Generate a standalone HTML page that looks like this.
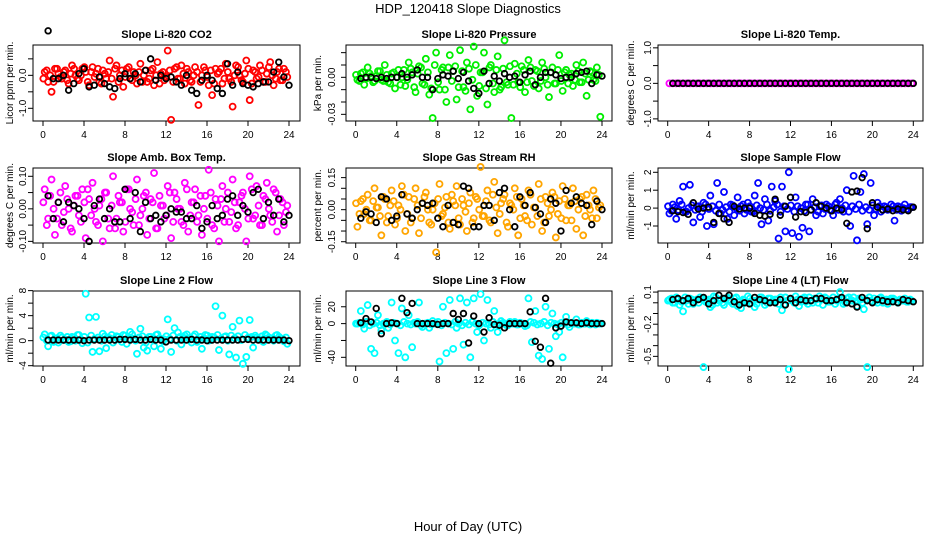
<!DOCTYPE html>
<html><head><meta charset="utf-8"><style>
html,body{margin:0;padding:0;background:#fff;}
svg{display:block;font-family:"Liberation Sans",Arial,sans-serif;}
</style></head><body>
<svg id="chart" width="936" height="540" viewBox="0 0 936 540">
<rect width="936" height="540" fill="#fff"/>
<text x="468" y="13" text-anchor="middle" font-size="13">HDP_120418  Slope Diagnostics</text>
<text x="468" y="531" text-anchor="middle" font-size="13">Hour of Day (UTC)</text>
</svg>
<script>
const xTicks = [0,4,8,12,16,20,24];
const titles = ["Slope Li-820 CO2","Slope Li-820 Pressure","Slope Li-820 Temp.","Slope Amb. Box Temp.","Slope Gas Stream RH","Slope Sample Flow","Slope Line 2 Flow","Slope Line 3 Flow","Slope Line 4 (LT) Flow"];
const yTitles = ["Licor ppm per min.","kPa per min.","degrees C per min.","degrees C per min.","percent per min.","ml/min per min.","ml/min per min.","ml/min per min.","ml/min per min."];
const colors = ["#ff0000","#00ee00","#ff00ff","#ff00ff","#ffa500","#0000ff","#00ffff","#00ffff","#00ffff"];
const yDomains = [[-1.385,0.92],[-0.0354,0.0262],[-1.06,1.08],[-0.105,0.1255],[-0.156,0.195],[-1.95,2.24],[-4.05,7.94],[-50.3,38.7],[-0.59,0.11]];
const yTicks = [[-1,-0.5,0,0.5],[-0.03,-0.02,-0.01,0,0.01,0.02],[-1,-0.5,0,0.5,1],[-0.1,-0.05,0,0.05,0.1],[-0.15,-0.1,-0.05,0,0.05,0.1,0.15],[-1,0,1,2],[-4,-2,0,2,4,6,8],[-40,-20,0,20],[-0.5,-0.4,-0.3,-0.2,-0.1,0,0.1]];
const yTickLabels = [{"-1":"-1.0","0":"0.0"},{"-0.03":"-0.03","0":"0.00"},{"-1":"-1.0","0":"0.0","1":"1.0"},{"-0.1":"-0.10","0":"0.00","0.1":"0.10"},{"-0.15":"-0.15","0":"0.00","0.15":"0.15"},{"-1":"-1","0":"0","1":"1","2":"2"},{"-4":"-4","0":"0","4":"4","8":"8"},{"-40":"-40","0":"0","20":"20"},{"-0.5":"-0.5","-0.2":"-0.2","0.1":"0.1"}];

const c1=[0.1,-0.2,-0.5,0.2,0.05,-0.1,0.15,-0.25,0.3,0.0,-0.15,0.2,0.1,-0.3,0.25,0.05,-0.2,0.15,-0.1,0.45,-0.65,0.3,0.0,-0.35,0.2,-0.1,0.1,-0.25,0.35,0.0,-0.2,0.15,-0.3,0.4,0.05,-0.15,0.75,-1.35,0.2,-0.1,0.3,-0.25,0.1,-0.2,0.25,-0.9,0.0,0.15,-0.3,-0.6,0.2,0.1,-0.25,0.35,-0.1,-0.95,0.3,0.0,-0.2,0.45,-0.75,0.15,-0.1,0.3,-0.2,0.05,0.4,-0.3,0.1,-0.15,0.2,-0.05];
const d1=[-0.1,0.15,0.0,-0.2,0.2,-0.05,0.1,-0.15,0.05,0.2,-0.1,0.0,0.25,-0.2,0.1,-0.05,0.2,-0.25,0.05,0.1,-0.1,0.2,-0.2,0.15,-0.05,0.25,-0.15,0.0,0.1,-0.2,0.15,-0.1,0.2,0.0,-0.25,0.1,-0.05,0.15,-0.2,0.25,-0.1,0.05,0.2,-0.15,0.0,0.1,-0.2,0.25,-0.05,0.15,-0.25,0.05,0.2,-0.1,0.1,-0.2,0.0,0.25,-0.15,0.05,0.2,-0.25,0.1,-0.05,0.15,-0.2,0.25,0.0,-0.1,0.2,-0.15,0.1];
const b1=[1.35,-0.1,-0.1,0.0,-0.45,-0.25,0.05,0.2,-0.35,-0.3,-0.05,-0.25,-0.35,-0.4,-0.1,0.05,-0.1,0.05,-0.2,0.15,0.5,-0.15,0.0,-0.1,-0.05,-0.2,-0.3,0.0,-0.45,-0.55,-0.15,0.0,-0.15,-0.4,-0.55,0.35,-0.3,0.1,-0.25,-0.3,-0.35,-0.25,-0.2,-0.2,0.1,0.4,-0.05,-0.3];
const c2=[-0.002,0.003,-0.006,0.008,0.001,-0.003,0.005,-0.002,0.01,-0.004,0.003,-0.009,0.006,0.0,-0.007,0.012,0.004,-0.012,0.009,-0.005,0.015,-0.014,-0.033,0.02,-0.01,0.008,-0.02,0.018,0.005,-0.018,0.022,-0.008,0.012,-0.026,0.025,-0.015,0.004,0.02,-0.022,0.01,-0.012,0.017,-0.008,0.03,-0.006,-0.033,0.011,-0.004,0.009,-0.012,0.014,-0.003,0.006,-0.009,0.012,0.0,-0.016,0.008,-0.005,0.018,-0.011,0.006,0.002,-0.007,0.01,-0.004,0.012,-0.015,0.005,-0.002,0.008,-0.032];
const d2=[0.002,-0.003,0.004,-0.001,0.003,-0.004,0.001,0.005,-0.003,0.002,-0.005,0.004,0.0,-0.006,0.006,-0.002,0.007,-0.008,0.003,0.008,-0.006,0.004,-0.009,0.01,-0.004,0.006,-0.01,0.008,-0.003,0.009,-0.008,0.005,-0.011,0.007,-0.002,0.01,-0.007,0.004,-0.009,0.008,-0.005,0.006,-0.01,0.007,-0.004,0.009,-0.006,0.003,-0.008,0.006,-0.004,0.008,-0.007,0.005,-0.003,0.007,-0.006,0.004,-0.005,0.006,-0.003,0.004,-0.005,0.003,-0.002,0.005,-0.004,0.003,-0.002,0.004,-0.003,0.002];
const b2=[-0.001,0.0,0.0,-0.001,0.0,-0.001,0.0,0.0,0.003,0.0,0.002,0.006,0.0,0.0,-0.01,-0.001,0.002,0.001,0.005,-0.001,0.004,-0.003,-0.009,-0.013,0.005,-0.005,0.001,-0.003,0.003,0.0,0.001,-0.004,0.002,0.005,-0.006,0.0,0.004,0.004,0.002,-0.001,0.0,0.0,0.003,0.004,0.005,-0.005,0.002,0.001];
const c3=[0,0,0,0,0,0,0,0,0,0,0,0,0,0,0,0,0,0,0,0,0,0,0,0,0,0,0,0,0,0,0,0,0,0,0,0,0,0,0,0,0,0,0,0,0,0,0,0,0,0,0,0,0,0,0,0,0,0,0,0,0,0,0,0,0,0,0,0,0,0,0,0];
const d3=[];
const b3=[0,0,0,0,0,0,0,0,0,0,0,0,0,0,0,0,0,0,0,0,0,0,0,0,0,0,0,0,0,0,0,0,0,0,0,0,0,0,0,0,0,0,0,0,0,0,0,0];
const c4=[0.06,-0.03,0.09,-0.08,0.02,-0.05,0.07,0.0,-0.07,0.04,-0.02,0.06,-0.09,0.03,0.08,-0.04,0.01,-0.1,0.05,-0.06,0.1,-0.03,0.02,-0.07,0.06,0.0,-0.05,0.09,-0.02,0.04,-0.08,0.03,0.11,-0.06,0.01,-0.03,0.07,-0.09,0.05,0.0,-0.04,0.08,-0.07,0.02,0.06,-0.02,-0.08,0.04,0.12,-0.05,0.03,-0.1,0.07,0.0,-0.04,0.09,-0.06,0.02,0.05,-0.1,0.1,-0.03,0.07,-0.05,0.04,0.08,-0.02,0.06,-0.07,0.03,-0.05,0.01];
const d4=[0.02,-0.05,0.04,0.0,-0.03,0.05,-0.01,0.03,-0.06,0.01,0.04,-0.04,0.02,0.06,-0.02,0.0,-0.05,0.03,0.05,-0.03,0.01,-0.06,0.04,0.02,-0.04,0.06,-0.01,0.03,-0.05,0.0,0.05,-0.03,0.02,-0.06,0.04,0.01,-0.02,0.05,-0.04,0.03,0.0,-0.05,0.06,-0.02,0.02,-0.04,0.04,0.0,-0.03,0.05,-0.06,0.01,0.03,-0.04,0.05,-0.01,0.02,-0.05,0.04,0.0,-0.03,0.06,-0.02,0.01,-0.05,0.03,0.0,-0.04,0.05,-0.02,0.02,-0.01];
const b4=[0.04,-0.03,0.02,-0.04,0.02,0.01,0.0,-0.03,-0.1,0.01,0.03,-0.03,0.0,-0.04,-0.04,0.06,-0.03,0.05,-0.07,0.02,-0.03,-0.02,-0.04,-0.02,0.0,-0.01,-0.01,-0.03,-0.03,0.01,-0.06,-0.04,0.01,-0.03,-0.02,0.03,0.04,-0.02,0.01,-0.01,0.05,0.06,-0.03,0.02,-0.02,0.03,-0.04,-0.02];
const c5=[-0.08,0.04,-0.02,0.07,-0.05,0.1,0.01,-0.12,0.05,-0.03,0.09,-0.07,0.02,0.11,-0.1,0.06,-0.04,0.1,-0.11,0.03,0.08,-0.06,0.0,-0.2,0.12,-0.02,0.06,-0.09,0.04,0.11,-0.07,0.02,-0.1,0.08,-0.04,0.05,0.2,-0.03,0.09,-0.06,0.13,-0.11,0.03,0.07,-0.08,0.02,0.1,-0.12,0.05,-0.03,0.09,-0.07,0.01,0.12,-0.1,0.06,-0.03,0.08,-0.13,0.04,0.11,-0.05,0.02,0.1,-0.09,0.05,-0.12,0.07,0.0,0.09,-0.04,0.02];
const d5=[0.03,-0.02,0.05,0.0,-0.05,0.04,0.01,-0.03,0.06,-0.06,0.02,0.04,-0.04,0.0,0.07,-0.02,-0.06,0.05,0.02,-0.04,0.06,0.0,-0.07,0.03,0.05,-0.03,0.01,-0.06,0.07,0.02,-0.04,0.05,-0.01,0.03,-0.06,0.06,0.0,-0.03,0.04,-0.05,0.07,0.01,-0.02,0.05,-0.06,0.03,0.0,0.06,-0.04,0.02,-0.05,0.07,0.01,-0.03,0.05,-0.06,0.03,0.0,0.06,-0.02,-0.04,0.05,0.02,-0.05,0.04,0.0,0.06,-0.03,0.02,-0.04,0.05,0.01];
const b5=[-0.04,-0.01,-0.02,-0.06,0.06,0.05,-0.05,-0.03,0.07,-0.02,-0.04,0.0,0.03,0.02,0.03,-0.04,-0.08,0.02,-0.06,-0.07,0.11,0.1,-0.08,-0.08,0.02,0.02,-0.05,0.08,0.1,0.0,-0.08,0.06,0.02,0.08,0.01,-0.02,-0.06,0.05,0.03,-0.1,0.09,0.03,0.06,0.03,0.02,-0.07,0.04,0.0];
const c6=[-0.3,0.2,-0.6,0.4,1.2,-0.2,1.3,-0.8,0.1,-0.5,0.3,-1.0,0.7,-0.9,1.4,-0.3,0.9,-0.6,0.2,-0.4,0.6,0.1,-0.3,0.3,-0.2,0.7,1.4,-0.9,0.5,-0.7,1.2,0.4,-1.7,1.2,-1.3,2.0,-1.4,0.6,-1.6,-1.1,0.2,-1.3,0.5,-0.4,0.1,-0.3,0.2,-0.1,-0.4,0.3,0.5,-0.2,1.0,-1.0,1.8,-1.8,0.9,1.9,-0.9,1.4,-0.4,0.3,-0.2,0.1,-0.1,0.2,-0.7,0.1,-0.15,0.2,-0.1,0.05];
const d6=[0.1,-0.15,0.05,-0.1,0.2,-0.2,0.0,0.15,-0.1,0.1,-0.2,0.2,-0.05,0.1,-0.15,0.2,-0.1,0.05,-0.2,0.15,0.0,-0.15,0.2,-0.1,0.1,-0.2,0.15,0.0,-0.1,0.2,-0.15,0.05,0.2,-0.2,0.1,-0.05,0.15,-0.2,0.1,0.0,-0.15,0.2,-0.1,0.05,-0.2,0.15,-0.05,0.1,-0.15,0.2,-0.1,0.0,0.15,-0.2,0.1,-0.05,0.2,-0.15,0.05,-0.1,0.15,-0.05,0.1,-0.1,0.05,-0.05,0.1,-0.1,0.05,0.0,-0.05,0.05];
const b6=[-0.15,-0.2,-0.25,-0.35,0.3,-0.05,0.0,0.05,-0.8,-0.3,-0.6,-0.8,0.1,-0.05,0.0,0.0,-0.3,-0.4,-0.45,-0.35,0.5,-0.4,0.1,0.6,-0.5,-0.2,-0.25,-0.1,0.3,0.1,0.0,-0.15,0.0,-0.1,-0.85,0.9,0.95,1.7,-1.15,0.3,0.05,-0.1,-0.05,-0.15,-0.05,-0.1,-0.15,0.05];
const c7=[1.0,-0.9,0.8,0.3,-0.3,0.5,0.2,-0.2,0.6,0.0,0.9,-0.4,7.5,3.7,-1.8,3.8,-1.7,1.1,-1.2,0.4,-0.3,0.7,0.2,0.9,-0.5,1.4,0.3,-2.1,1.9,-1.1,-1.6,0.6,-0.9,1.0,-1.3,0.2,3.4,-1.8,2.0,1.3,-0.6,0.8,0.4,-0.3,1.0,0.2,-1.3,0.9,0.0,0.6,5.5,-1.5,4.0,0.7,-2.2,2.2,-2.7,3.2,-3.7,-2.6,3.3,-1.1,0.5,0.2,-0.2,0.8,0.4,0.0,0.9,0.3,-0.1,-0.5];
const d7=[0.5,0.0,0.7,-0.2,0.4,0.8,0.1,0.6,-0.1,0.5,0.9,0.2,0.6,-0.3,0.8,0.3,0.5,0.0,0.7,0.4,0.9,0.1,0.6,-0.2,0.8,0.3,1.0,0.0,0.5,0.7,-0.3,0.6,0.2,0.9,0.4,-0.1,0.7,0.3,0.8,0.0,0.6,0.5,1.0,0.2,0.7,-0.2,0.6,0.4,0.8,0.1,0.5,0.9,0.3,0.6,0.0,0.8,0.4,0.7,0.1,0.9,0.5,0.6,0.8,0.3,0.7,1.0,0.5,0.4,0.8,0.6,0.3,0.5];
const b7=[0.1,0.1,0.1,0.1,0.1,0.1,0.1,0.0,0.1,0.1,0.1,0.1,0.1,0.1,0.2,0.2,0.1,0.2,0.1,0.1,0.2,0.1,0.1,-0.2,0.1,0.1,0.1,0.1,0.2,0.1,0.1,0.0,0.1,0.1,0.1,0.1,0.1,0.1,0.2,0.2,0.1,0.1,0.1,0.1,0.1,0.1,0.1,0.0];
const c8=[0,15,-6,22,-30,-35,10,-8,0,-5,25,-20,-35,18,-40,10,-28,0,25,-4,0,-5,3,0,-45,20,-35,28,-30,-5,30,-25,25,-40,30,-10,35,-20,28,-5,15,-10,3,0,-2,0,2,-1,0,-3,30,-22,15,-38,-42,20,-30,12,-15,-10,-40,8,-4,0,5,-1,0,3,-1,0,1,0];
const d8=[0,1,-1,2,-2,0,1,-2,0,2,-1,1,0,-2,2,0,-1,1,2,-2,0,1,-1,0,2,-2,1,0,-1,2,0,-2,1,-1,2,0,-2,1,0,-1,2,-1,0,1,-2,2,0,-1,1,0,-2,2,1,-1,0,2,-2,1,0,-1,1,0,-1,1,0,-1,1,0,0,1,-1,0];
const b8=[1,6,2,18,-12,0,1,0,30,13,24,0,0,0,0,-1,0,0,12,5,12,-23,9,0,-10,7,-1,-2,-5,0,0,0,0,14,-21,-28,30,-47,-5,-3,2,1,1,0,1,0,0,0];
const c9=[0.03,0.0,0.05,-0.02,-0.08,0.02,0.04,-0.01,0.03,0.05,-0.6,0.02,-0.04,0.06,0.0,0.03,-0.02,0.05,0.01,0.04,-0.03,-0.05,0.02,0.06,0.0,-0.04,0.03,0.05,-0.02,0.04,0.01,0.03,-0.01,-0.07,0.05,-0.62,0.02,0.06,-0.03,0.04,0.01,0.05,0.0,0.03,0.06,-0.02,0.04,0.01,0.05,0.02,0.1,-0.01,0.04,0.02,0.05,-0.03,0.03,-0.06,-0.6,0.02,0.04,0.0,0.05,0.02,-0.01,0.04,0.03,0.0,0.02,0.04,0.01,0.02];
const d9=[0.02,0.04,0.0,0.03,0.01,0.05,-0.01,0.03,0.02,0.0,0.04,0.01,0.03,-0.02,0.05,0.02,0.0,0.04,0.03,-0.01,0.05,0.01,0.03,0.0,0.04,0.02,-0.01,0.05,0.02,0.0,0.04,0.01,0.03,0.05,-0.02,0.02,0.04,0.0,0.03,0.01,0.05,-0.01,0.02,0.04,0.0,0.03,0.05,0.01,0.02,-0.01,0.04,0.03,0.0,0.05,0.02,0.01,0.04,0.0,0.03,0.05,0.01,0.02,0.04,0.0,0.03,0.02,0.04,0.01,0.03,0.02,0.01,0.03];
const b9=[0.03,0.04,0.02,0.04,0.0,0.03,0.05,-0.01,0.02,0.07,0.04,0.07,0.01,-0.02,0.0,-0.01,0.05,0.03,0.02,0.0,0.0,0.03,-0.02,0.04,0.0,0.03,0.02,0.02,0.04,0.04,0.02,0.02,0.03,0.05,0.0,-0.01,-0.04,0.05,0.02,0.0,0.03,0.02,0.01,0.01,0.0,0.03,0.02,0.01];
const colorSeries=[c1,c2,c3,c4,c5,c6,c7,c8,c9];
const coreSeries=[d1,d2,d3,d4,d5,d6,d7,d8,d9];
const blackSeries=[b1,b2,b3,b4,b5,b6,b7,b8,b9];

const NS="http://www.w3.org/2000/svg";
const svg=document.getElementById('chart');
const cols=[{l:33,r:300,x0:43,x24:289,tl:23,yt:9},{l:346,r:612,x0:355.7,x24:602,tl:332,yt:317},{l:658,r:923,x0:667.7,x24:913.3,tl:648,yt:630}];
const rows=[{t:45,b:121},{t:168,b:243},{t:291,b:366}];
function mk(tag,attrs,parent){const e=document.createElementNS(NS,tag);for(const k in attrs)e.setAttribute(k,attrs[k]);(parent||svg).appendChild(e);return e;}

for(let p=0;p<9;p++){
  const C=cols[p%3],R=rows[Math.floor(p/3)];
  const g=mk('g',{});
  
  
  const xS=t=>C.x0+(t/24)*(C.x24-C.x0);
  const [ymin,ymax]=yDomains[p];
  const yS=v=>R.b-(v-ymin)/(ymax-ymin)*(R.b-R.t);
  const box=mk('rect',{x:C.l,y:R.t,width:C.r-C.l,height:R.b-R.t,fill:'none',stroke:'#000','stroke-width':1},g);
  
  
  const tt=mk('text',{x:(C.l+C.r)/2,y:R.t-7,'text-anchor':'middle','font-size':11,'font-weight':'bold'},g);
  tt.textContent=titles[p];
  
  
  const xa=mk('line',{x1:xS(0),x2:xS(24),y1:R.b,y2:R.b,stroke:'#000'},g);
  
  
  xTicks.forEach(t=>{
    mk('line',{x1:xS(t),x2:xS(t),y1:R.b,y2:R.b+5,stroke:'#000'},g);
    const lb=mk('text',{x:xS(t),y:R.b+17,'text-anchor':'middle','font-size':10},g);
    lb.textContent=t;
    
    
  });
  const yt=yTicks[p];
  const ya=mk('line',{x1:C.l,x2:C.l,y1:yS(yt[0]),y2:yS(yt[yt.length-1]),stroke:'#000'},g);
  
  
  yt.forEach(v=>{
    mk('line',{x1:C.l-5,x2:C.l,y1:yS(v),y2:yS(v),stroke:'#000'},g);
    const s=yTickLabels[p][String(v)];
    if(s!==undefined){
      const lb=mk('text',{x:0,y:0,'text-anchor':'middle','font-size':10,transform:`translate(${C.tl+3},${yS(v)}) rotate(-90)`},g);
      lb.textContent=s;
      
      
    }
  });
  const ytl=mk('text',{x:0,y:0,'text-anchor':'middle','font-size':10,transform:`translate(${C.yt+4},${(R.t+R.b)/2}) rotate(-90)`},g);
  ytl.textContent=yTitles[p];
  
  
  const cs=colorSeries[p];
  cs.forEach((v,i)=>{
    const t=(i+0.5)*24/cs.length;
    const c=mk('circle',{cx:xS(t),cy:yS(v),r:3,fill:'none',stroke:colors[p],'stroke-width':1.8},g);
    
    
  });
  const ds=coreSeries[p];
  ds.forEach((v,i)=>{
    const t=(i+0.1)*24/ds.length;
    const c=mk('circle',{cx:xS(t),cy:yS(v),r:3,fill:'none',stroke:colors[p],'stroke-width':1.8},g);
    
    
  });
  const bs=blackSeries[p];
  bs.forEach((v,i)=>{
    const t=(i+1)*24/bs.length;
    const c=mk('circle',{cx:xS(t),cy:yS(v),r:2.8,fill:'none',stroke:'#000','stroke-width':1.8},g);
    
    
  });
}
</script>
</body></html>
